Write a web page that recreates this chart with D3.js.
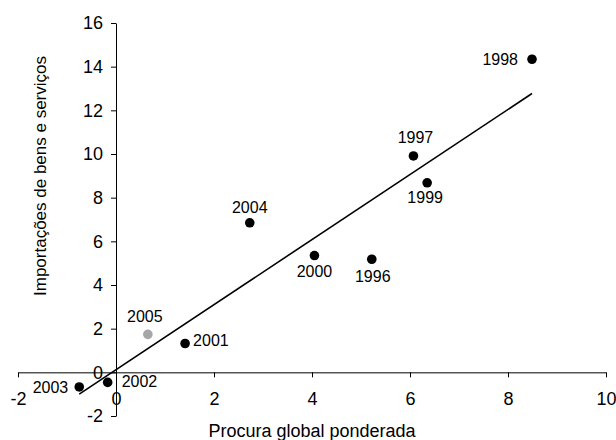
<!DOCTYPE html>
<html lang="pt">
<head>
<meta charset="utf-8">
<script src="https://d3js.org/d3.v7.min.js"></script>
<style>
  body { margin: 0; background: #fff; }
  text { font-family: "Liberation Sans", Arial, sans-serif; fill: #000; }
</style>
</head>
<body>
<div id="chart"></div>
<script>

// data
const years = [1996, 1997, 1998, 1999, 2000, 2001, 2002, 2003, 2004, 2005];
const procura = [5.22, 6.07, 8.49, 6.35, 4.05, 1.41, -0.17, -0.75, 2.73, 0.65];
const importacoes = [5.18, 9.91, 14.34, 8.68, 5.35, 1.32, -0.46, -0.67, 6.85, 1.74];
const xTicks = [-2, 0, 2, 4, 6, 8, 10];
const yTicks = [-2, 0, 2, 4, 6, 8, 10, 12, 14, 16];
// trend line
const trendSlope = 1.49;
const trendIntercept = 0.12;

// label placement per year (dx, dy, anchor)
const labelPlace = {
  1996: [1, 23, "middle"],
  1997: [2, -13, "middle"],
  1998: [-14, 6, "end"],
  1999: [-2, 20, "middle"],
  2000: [0, 21, "middle"],
  2001: [8, 2, "start"],
  2002: [14, 5, "start"],
  2003: [-11, 6, "end"],
  2004: [0, -10, "middle"],
  2005: [-3, -12, "middle"]
};

const width = 616, height = 440;
const margin = {top: 23, right: 10, bottom: 24, left: 18};

const svg = d3.select("#chart")
  .append("svg")
    .attr("width", width)
    .attr("height", height);

const x = d3.scaleLinear()
  .domain([-2, 10])
  .range([margin.left, width - margin.right]);

const y = d3.scaleLinear()
  .domain([-2, 16])
  .range([height - margin.bottom, margin.top]);

// plain hyphen for negatives, like the original
const fmt = d => String(d);

// X axis through y = 0
const xAxis = svg.append("g")
  .attr("transform", `translate(0, ${y(0)})`)
  .call(d3.axisBottom(x).tickValues(xTicks).tickFormat(fmt)
    .tickSize(5).tickSizeOuter(0).tickPadding(15));

// Y axis through x = 0
const yAxis = svg.append("g")
  .attr("transform", `translate(${x(0)}, 0)`)
  .call(d3.axisLeft(y).tickValues(yTicks).tickFormat(fmt)
    .tickSize(5).tickSizeOuter(0).tickPadding(8));

[xAxis, yAxis].forEach(g => {
  g.selectAll("path, line").attr("stroke", "#000").attr("stroke-width", 1);
  g.selectAll("text").style("font-size", "18px").attr("fill", "#000")
    .style("font-family", "'Liberation Sans', Arial, sans-serif");
});

// trend line over the range of the data
const xr = d3.extent(procura);
svg.append("line")
  .attr("x1", x(xr[0]))
  .attr("y1", y(trendIntercept + trendSlope * xr[0]))
  .attr("x2", x(xr[1]))
  .attr("y2", y(trendIntercept + trendSlope * xr[1]))
  .attr("stroke", "#000")
  .attr("stroke-width", 1.6);

const pts = years.map((yr, i) => ({year: yr, x: procura[i], y: importacoes[i]}));

// points
svg.selectAll(".pt")
  .data(pts)
  .join("circle")
    .attr("class", "pt")
    .attr("cx", d => x(d.x))
    .attr("cy", d => y(d.y))
    .attr("r", 4.8)
    .attr("fill", d => d.year === 2005 ? "#a6a6a6" : "#000");

// year labels
svg.selectAll(".lbl")
  .data(pts)
  .join("text")
    .attr("class", "lbl")
    .attr("x", d => x(d.x) + labelPlace[d.year][0])
    .attr("y", d => y(d.y) + labelPlace[d.year][1])
    .attr("text-anchor", d => labelPlace[d.year][2])
    .style("font-size", "16px")
    .text(d => d.year);

// axis titles
svg.append("text")
  .attr("x", 312)
  .attr("y", 437)
  .attr("text-anchor", "middle")
  .style("font-size", "18px")
  .text("Procura global ponderada");

svg.append("text")
  .attr("transform", "translate(46, 176) rotate(-90)")
  .attr("text-anchor", "middle")
  .style("font-size", "17px")
  .text("Importações de bens e serviços");

</script>
</body>
</html>
